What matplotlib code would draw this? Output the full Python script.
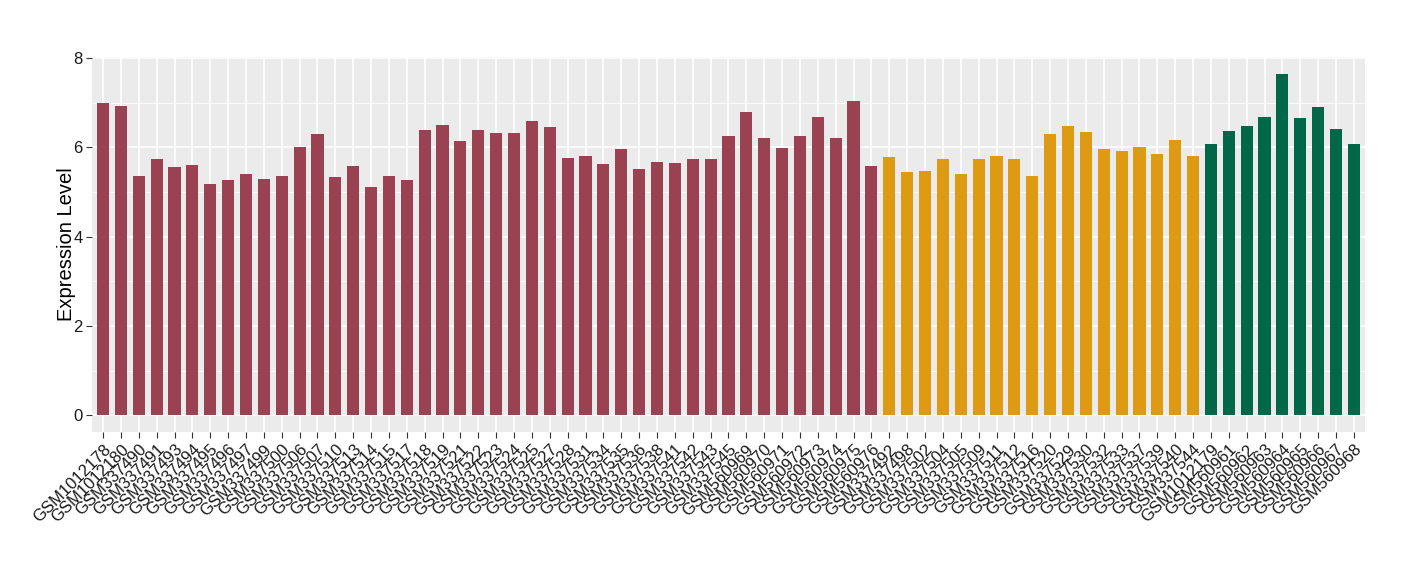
import numpy as np
import matplotlib
matplotlib.use("Agg")
import matplotlib.pyplot as plt

plt.rcParams['font.family'] = ['Liberation Sans', 'DejaVu Sans']

# sample names per group
grupo_a = ["GSM1012178", "GSM1012180", "GSM337490", "GSM337491", "GSM337493", "GSM337494",
           "GSM337495", "GSM337496", "GSM337497", "GSM337499", "GSM337500", "GSM337506",
           "GSM337507", "GSM337510", "GSM337513", "GSM337514", "GSM337515", "GSM337517",
           "GSM337518", "GSM337519", "GSM337521", "GSM337522", "GSM337523", "GSM337524",
           "GSM337525", "GSM337527", "GSM337528", "GSM337531", "GSM337534", "GSM337535",
           "GSM337536", "GSM337538", "GSM337541", "GSM337542", "GSM337543", "GSM337545",
           "GSM560969", "GSM560970", "GSM560971", "GSM560972", "GSM560973", "GSM560974",
           "GSM560975", "GSM560976"]
valores_a = [7.00, 6.92, 5.37, 5.73, 5.57, 5.60, 5.17, 5.28, 5.40, 5.30, 5.35, 6.00,
             6.30, 5.33, 5.58, 5.12, 5.35, 5.27, 6.40, 6.50, 6.15, 6.40, 6.32, 6.33,
             6.60, 6.45, 5.77, 5.80, 5.62, 5.97, 5.52, 5.68, 5.65, 5.75, 5.73, 6.25,
             6.80, 6.20, 5.98, 6.25, 6.68, 6.22, 7.05, 5.58]

grupo_b = ["GSM337492", "GSM337498", "GSM337502", "GSM337504", "GSM337505", "GSM337509",
           "GSM337511", "GSM337512", "GSM337516", "GSM337520", "GSM337529", "GSM337530",
           "GSM337532", "GSM337533", "GSM337537", "GSM337539", "GSM337540", "GSM337544"]
valores_b = [5.78, 5.45, 5.47, 5.73, 5.40, 5.73, 5.80, 5.75, 5.37, 6.30, 6.47, 6.35,
             5.97, 5.93, 6.00, 5.85, 6.17, 5.80]

grupo_c = ["GSM1012179", "GSM560961", "GSM560962", "GSM560963", "GSM560964", "GSM560965",
           "GSM560966", "GSM560967", "GSM560968"]
valores_c = [6.07, 6.37, 6.47, 6.68, 7.65, 6.65, 6.90, 6.42, 6.07]

cores = ["#9A4251", "#DE9A12", "#006847"]

nomes = grupo_a + grupo_b + grupo_c
valores = valores_a + valores_b + valores_c
cor_barras = [cores[0]] * len(grupo_a) + [cores[1]] * len(grupo_b) + [cores[2]] * len(grupo_c)
x = np.arange(len(nomes))

fig = plt.figure(figsize=(14.2, 5.8), dpi=100)
ax = fig.add_axes([0.065, 0.255, 0.896, 0.647])
ax.set_facecolor("#EBEBEB")

# grade no estilo ggplot
for yv in [1, 3, 5, 7]:
    ax.axhline(yv, color="white", lw=0.6, zorder=0)
for yv in [0, 2, 4, 6, 8]:
    ax.axhline(yv, color="white", lw=1.2, zorder=0)
for xv in x:
    ax.axvline(xv, color="white", lw=1.2, zorder=0)

ax.bar(x, valores, width=0.68, color=cor_barras, zorder=2)

ax.set_xlim(-0.6, len(nomes) - 0.4)
ax.set_ylim(-0.38, 8.03)
ax.set_yticks([0, 2, 4, 6, 8])
ax.set_yticklabels(["0", "2", "4", "6", "8"], fontsize=12, color="#1A1A1A")
ax.set_xticks(x)
ax.set_xticklabels(nomes, rotation=45, ha="right", rotation_mode="anchor",
                   fontsize=12, color="#1A1A1A")
ax.tick_params(axis="both", length=4, width=0.8, color="#333333", pad=3)
ax.set_ylabel("Expression Level", fontsize=14.5, labelpad=-2)
for s in ax.spines.values():
    s.set_visible(False)

fig.savefig("out.png", dpi=100)
